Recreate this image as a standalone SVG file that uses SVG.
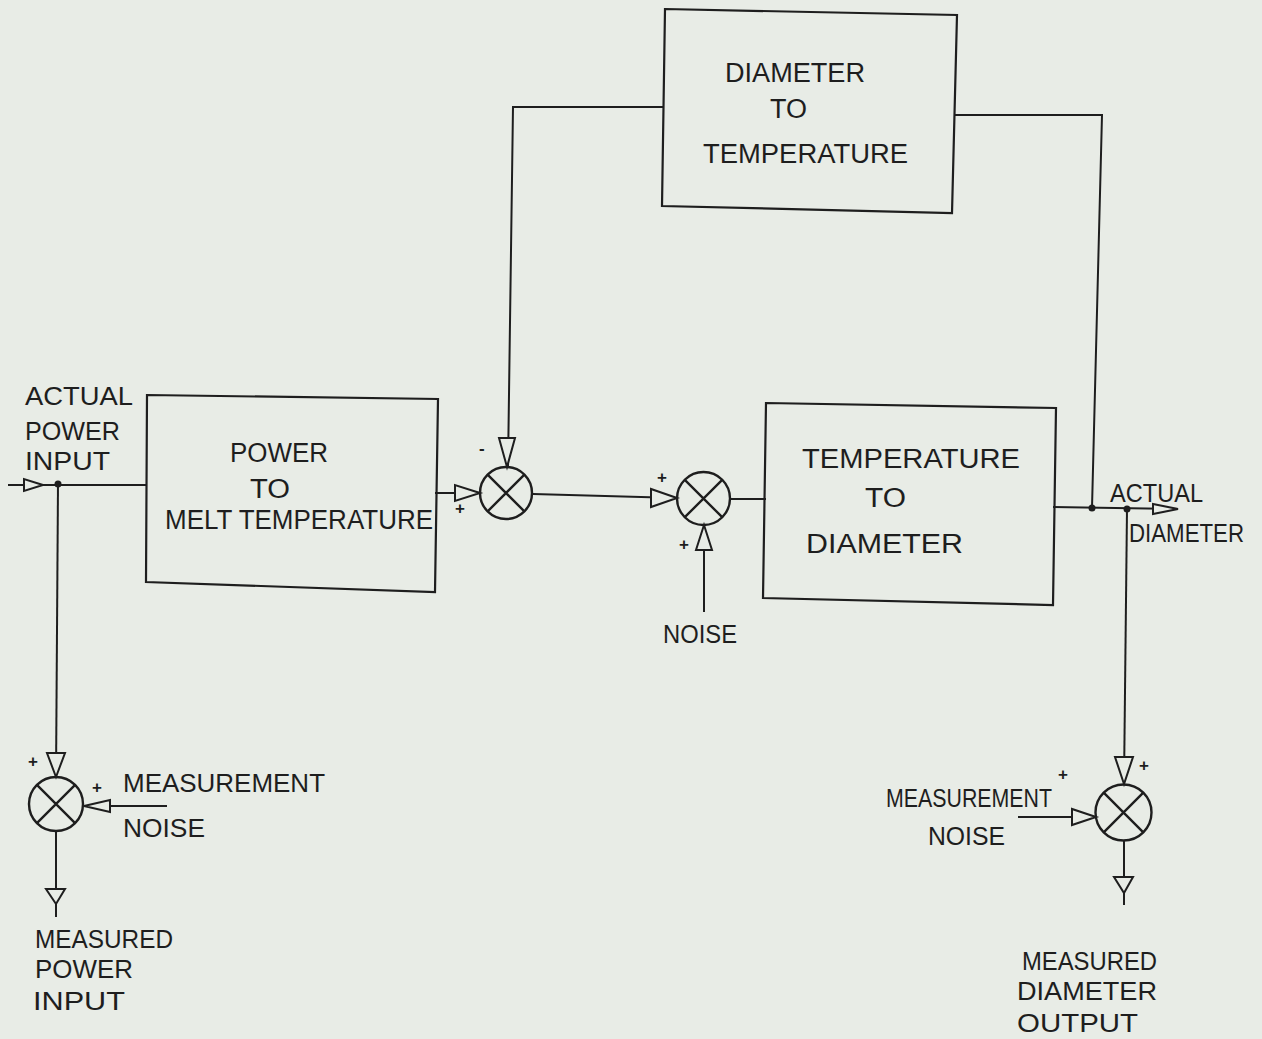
<svg xmlns="http://www.w3.org/2000/svg" width="1262" height="1039" viewBox="0 0 1262 1039">
<style>
.bg{fill:#e8ece6}
.box{fill:none;stroke:#1e1e1e;stroke-width:2.2}
.ln{fill:none;stroke:#1e1e1e;stroke-width:2}
.arr{fill:#e8ece6;stroke:#1e1e1e;stroke-width:2;stroke-linejoin:miter}
.sum{fill:none;stroke:#1e1e1e;stroke-width:2.4}
.dot{fill:#1e1e1e}
text{font-family:"Liberation Sans",Arial,sans-serif;font-size:27px;fill:#1e1e1e}
.lb{font-size:25px}
.sg{font-size:17px;font-weight:bold}
</style>
<rect class="bg" x="0" y="0" width="1262" height="1039"/>

<g id="connectors">
  <line class="ln" x1="8" y1="485" x2="147" y2="485"/>
  <polygon class="arr" points="43,485 24,479 24,491"/>
  <circle class="dot" cx="58" cy="484" r="3.5"/>
  <polyline class="ln" points="58,484 56,777"/>
  <polygon class="arr" points="56,777 47,753 65,753"/>
  <line class="ln" x1="435" y1="493" x2="480" y2="493"/>
  <polygon class="arr" points="480,493 455,485 455,501"/>
  <polyline class="ln" points="664,107 513,107 508,466"/>
  <polygon class="arr" points="507,467 499,438 515,438"/>
  <line class="ln" x1="533" y1="494" x2="677" y2="498"/>
  <polygon class="arr" points="677,498 651,489 651,507"/>
  <line class="ln" x1="704" y1="612" x2="704" y2="525"/>
  <polygon class="arr" points="704,525 696,550 712,550"/>
  <line class="ln" x1="730" y1="499" x2="766" y2="499"/>
  <line class="ln" x1="1053" y1="507" x2="1178" y2="509"/>
  <polygon class="arr" points="1178,509 1153,504 1153,514"/>
  <circle class="dot" cx="1092" cy="508" r="3.5"/>
  <circle class="dot" cx="1127" cy="509" r="3.5"/>
  <polyline class="ln" points="955,115 1102,115 1092,508"/>
  <line class="ln" x1="1127" y1="509" x2="1124" y2="784"/>
  <polygon class="arr" points="1124,784 1115,757 1133,757"/>
  <line class="ln" x1="1018" y1="817" x2="1096" y2="817"/>
  <polygon class="arr" points="1096,817 1072,809 1072,825"/>
  <line class="ln" x1="1124" y1="840" x2="1124" y2="905"/>
  <polygon class="arr" points="1114,877 1133,877 1124,893"/>
  <line class="ln" x1="167" y1="806" x2="84" y2="806"/>
  <polygon class="arr" points="84,806 110,800 110,812"/>
  <line class="ln" x1="56" y1="831" x2="56" y2="917"/>
  <polygon class="arr" points="46,889 65,889 56,904"/>
</g>

<g id="box-diameter-to-temperature">
  <polygon class="box" points="665,9 957,15 952,213 662,206"/>
  <text x="725" y="82" textLength="140" lengthAdjust="spacingAndGlyphs">DIAMETER</text>
  <text x="770" y="118" textLength="37" lengthAdjust="spacingAndGlyphs">TO</text>
  <text x="703" y="163" textLength="205" lengthAdjust="spacingAndGlyphs">TEMPERATURE</text>
</g>

<g id="box-power-to-melt">
  <polygon class="box" points="147,395 438,399 435,592 146,582"/>
  <text x="230" y="462" textLength="98" lengthAdjust="spacingAndGlyphs">POWER</text>
  <text x="250" y="498" textLength="40" lengthAdjust="spacingAndGlyphs">TO</text>
  <text x="165" y="529" textLength="268" lengthAdjust="spacingAndGlyphs">MELT TEMPERATURE</text>
</g>

<g id="box-temperature-to-diameter">
  <polygon class="box" points="766,403 1056,408 1053,605 763,598"/>
  <text x="802" y="468" textLength="218" lengthAdjust="spacingAndGlyphs">TEMPERATURE</text>
  <text x="865" y="507" textLength="41" lengthAdjust="spacingAndGlyphs">TO</text>
  <text x="806" y="553" textLength="157" lengthAdjust="spacingAndGlyphs">DIAMETER</text>
</g>

<g id="sum1">
  <circle class="sum" cx="506" cy="493" r="26"/>
  <path class="sum" d="M487.6,474.6 L524.4,511.4 M524.4,474.6 L487.6,511.4"/>
  <text class="sg" x="455" y="514">+</text>
  <text class="sg" x="479" y="454">-</text>
</g>

<g id="sum2">
  <circle class="sum" cx="703.5" cy="498.5" r="26.5"/>
  <path class="sum" d="M684.8,479.8 L722.2,517.2 M722.2,479.8 L684.8,517.2"/>
  <text class="sg" x="657" y="483">+</text>
  <text class="sg" x="679" y="550">+</text>
</g>

<g id="sum3">
  <circle class="sum" cx="56" cy="804" r="27"/>
  <path class="sum" d="M36.9,784.9 L75.1,823.1 M75.1,784.9 L36.9,823.1"/>
  <text class="sg" x="28" y="767">+</text>
  <text class="sg" x="92" y="793">+</text>
</g>

<g id="sum4">
  <circle class="sum" cx="1123.5" cy="812.5" r="28"/>
  <path class="sum" d="M1103.7,792.7 L1143.3,832.3 M1143.3,792.7 L1103.7,832.3"/>
  <text class="sg" x="1139" y="771">+</text>
  <text class="sg" x="1058" y="780">+</text>
</g>

<g id="labels">
  <text class="lb" x="25" y="405" textLength="108" lengthAdjust="spacingAndGlyphs">ACTUAL</text>
  <text class="lb" x="25" y="440" textLength="95" lengthAdjust="spacingAndGlyphs">POWER</text>
  <text class="lb" x="25" y="470" textLength="85" lengthAdjust="spacingAndGlyphs">INPUT</text>
  <text class="lb" x="1110" y="502" textLength="93" lengthAdjust="spacingAndGlyphs">ACTUAL</text>
  <text class="lb" x="1129" y="542" textLength="115" lengthAdjust="spacingAndGlyphs">DIAMETER</text>
  <text class="lb" x="663" y="643" textLength="74" lengthAdjust="spacingAndGlyphs">NOISE</text>
  <text class="lb" x="123" y="792" textLength="202" lengthAdjust="spacingAndGlyphs">MEASUREMENT</text>
  <text class="lb" x="123" y="837" textLength="82" lengthAdjust="spacingAndGlyphs">NOISE</text>
  <text class="lb" x="35" y="948" textLength="138" lengthAdjust="spacingAndGlyphs">MEASURED</text>
  <text class="lb" x="35" y="978" textLength="98" lengthAdjust="spacingAndGlyphs">POWER</text>
  <text class="lb" x="33" y="1010" textLength="92" lengthAdjust="spacingAndGlyphs">INPUT</text>
  <text class="lb" x="886" y="807" textLength="166" lengthAdjust="spacingAndGlyphs">MEASUREMENT</text>
  <text class="lb" x="928" y="845" textLength="77" lengthAdjust="spacingAndGlyphs">NOISE</text>
  <text class="lb" x="1022" y="970" textLength="135" lengthAdjust="spacingAndGlyphs">MEASURED</text>
  <text class="lb" x="1017" y="1000" textLength="140" lengthAdjust="spacingAndGlyphs">DIAMETER</text>
  <text class="lb" x="1017" y="1032" textLength="121" lengthAdjust="spacingAndGlyphs">OUTPUT</text>
</g>
</svg>
